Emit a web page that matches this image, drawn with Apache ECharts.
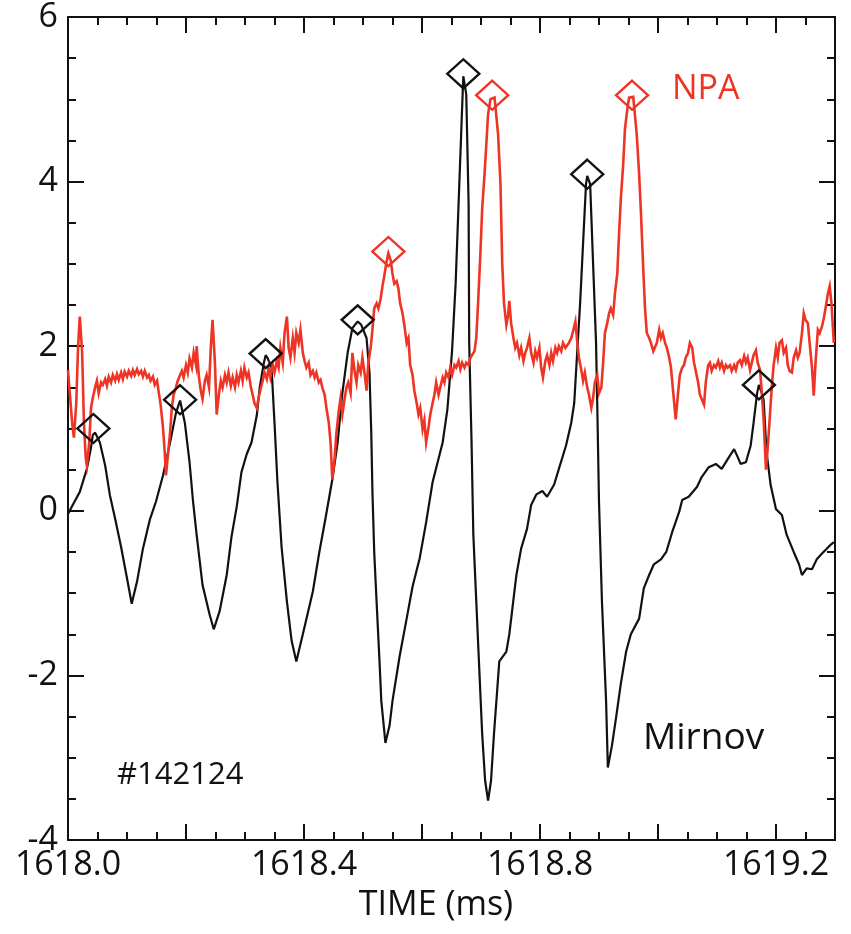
<!DOCTYPE html>
<html><head><meta charset="utf-8">
<script src="https://cdn.jsdelivr.net/npm/echarts@6/dist/echarts.min.js"></script>
<style>html,body{margin:0;padding:0;background:#fff}#c{width:851px;height:934px}</style>
</head><body><div id="c"></div>
<script>
// Mirnov signal [time (ms), value]
const mirnov = [
[1618.000,-0.04],[1618.008,0.07],[1618.020,0.23],[1618.032,0.51],[1618.039,0.77],[1618.042,0.92],[1618.046,0.95],
[1618.054,0.83],[1618.063,0.55],[1618.071,0.19],[1618.080,-0.10],[1618.090,-0.44],[1618.100,-0.82],[1618.108,-1.13],
[1618.117,-0.86],[1618.127,-0.46],[1618.139,-0.10],[1618.149,0.11],[1618.161,0.43],[1618.173,0.83],[1618.183,1.19],[1618.190,1.34],
[1618.198,1.07],[1618.206,0.59],[1618.212,0.11],[1618.218,-0.29],[1618.228,-0.90],[1618.240,-1.26],[1618.247,-1.44],
[1618.257,-1.22],[1618.269,-0.78],[1618.277,-0.32],[1618.286,0.05],[1618.294,0.47],[1618.303,0.69],[1618.311,0.83],[1618.320,1.16],[1618.325,1.50],[1618.332,1.80],[1618.335,1.89],
[1618.338,1.86],[1618.345,1.74],[1618.350,1.07],[1618.355,0.35],[1618.362,-0.44],[1618.371,-1.10],[1618.379,-1.58],[1618.387,-1.83],
[1618.398,-1.50],[1618.415,-0.98],[1618.426,-0.50],[1618.437,-0.07],[1618.448,0.38],[1618.457,0.83],[1618.465,1.43],[1618.474,1.92],[1618.482,2.22],[1618.491,2.30],
[1618.497,2.26],[1618.506,2.10],[1618.511,1.68],[1618.514,0.95],[1618.516,0.23],[1618.519,-0.50],[1618.523,-1.10],[1618.528,-1.83],[1618.531,-2.31],[1618.538,-2.82],
[1618.545,-2.61],[1618.550,-2.31],[1618.562,-1.77],[1618.574,-1.31],[1618.584,-0.92],[1618.596,-0.58],[1618.607,-0.14],[1618.618,0.35],[1618.635,0.83],[1618.643,1.23],
[1618.651,1.95],[1618.657,2.76],[1618.662,3.73],[1618.667,4.70],[1618.670,5.28],
[1618.675,5.06],[1618.679,3.73],[1618.680,2.04],[1618.684,0.83],[1618.687,-0.29],[1618.692,-1.10],[1618.697,-1.91],[1618.702,-2.71],[1618.707,-3.28],[1618.712,-3.52],
[1618.717,-3.28],[1618.722,-2.71],[1618.731,-1.83],[1618.743,-1.71],[1618.748,-1.50],[1618.760,-0.78],[1618.768,-0.46],[1618.778,-0.22],[1618.785,0.07],[1618.794,0.20],
[1618.804,0.24],[1618.812,0.17],[1618.824,0.32],[1618.832,0.51],[1618.844,0.79],[1618.853,1.07],[1618.858,1.31],[1618.863,1.92],[1618.868,2.52],[1618.873,3.25],[1618.878,3.97],[1618.880,4.07],
[1618.885,3.97],[1618.890,3.00],[1618.895,2.04],[1618.897,1.31],[1618.900,0.11],[1618.905,-1.10],[1618.912,-2.31],[1618.915,-3.12],
[1618.922,-2.85],[1618.929,-2.51],[1618.937,-2.10],[1618.946,-1.71],[1618.954,-1.50],[1618.968,-1.31],[1618.976,-0.94],[1618.985,-0.78],[1618.993,-0.65],
[1619.005,-0.59],[1619.014,-0.50],[1619.024,-0.26],[1619.036,-0.01],[1619.041,0.13],[1619.052,0.17],[1619.066,0.29],[1619.074,0.41],[1619.086,0.53],[1619.098,0.57],
[1619.108,0.51],[1619.120,0.65],[1619.129,0.75],[1619.134,0.67],[1619.140,0.57],[1619.149,0.59],[1619.157,0.79],[1619.162,1.07],[1619.168,1.43],[1619.171,1.53],
[1619.176,1.43],[1619.179,1.35],[1619.184,0.71],[1619.191,0.31],[1619.200,0.02],[1619.210,-0.05],[1619.218,-0.29],[1619.230,-0.50],[1619.239,-0.65],[1619.244,-0.78],
[1619.252,-0.70],[1619.261,-0.71],[1619.269,-0.59],[1619.278,-0.52],[1619.286,-0.46],[1619.293,-0.41],[1619.298,-0.38]
];
// NPA signal [time (ms), value]
const npa = [
[1618.000,1.71],[1618.003,1.43],[1618.007,1.07],[1618.010,0.89],[1618.014,1.31],[1618.017,1.98],[1618.020,2.36],[1618.024,1.92],[1618.027,1.07],[1618.030,0.65],
[1618.032,0.55],[1618.036,0.83],[1618.039,1.25],[1618.042,1.37],[1618.046,1.50],[1618.049,1.58],[1618.052,1.43],[1618.056,1.56],[1618.059,1.53],[1618.063,1.60],
[1618.066,1.52],[1618.069,1.63],[1618.073,1.56],[1618.076,1.65],[1618.080,1.58],[1618.083,1.66],[1618.086,1.59],[1618.090,1.68],[1618.093,1.60],[1618.096,1.69],
[1618.100,1.63],[1618.103,1.70],[1618.107,1.64],[1618.110,1.71],[1618.113,1.65],[1618.117,1.72],[1618.120,1.66],[1618.124,1.70],[1618.127,1.63],[1618.130,1.70],
[1618.134,1.62],[1618.137,1.65],[1618.140,1.58],[1618.144,1.63],[1618.147,1.53],[1618.151,1.58],[1618.154,1.43],[1618.157,1.29],[1618.161,1.01],[1618.164,0.71],
[1618.166,0.43],[1618.169,0.65],[1618.173,0.95],[1618.176,1.25],[1618.179,1.41],[1618.183,1.50],[1618.186,1.58],[1618.190,1.65],[1618.193,1.70],[1618.196,1.62],
[1618.200,1.77],[1618.203,1.68],[1618.206,1.85],[1618.210,1.74],[1618.213,1.92],[1618.217,1.77],[1618.218,2.00],[1618.222,1.62],[1618.225,1.46],[1618.228,1.36],
[1618.232,1.58],[1618.235,1.65],[1618.239,1.50],[1618.242,1.98],[1618.245,2.32],[1618.249,1.80],[1618.252,1.17],[1618.256,1.43],[1618.259,1.58],[1618.262,1.50],
[1618.266,1.65],[1618.269,1.56],[1618.272,1.68],[1618.276,1.52],[1618.279,1.62],[1618.283,1.50],[1618.286,1.65],[1618.289,1.56],[1618.293,1.70],[1618.296,1.58],
[1618.299,1.74],[1618.303,1.62],[1618.306,1.68],[1618.310,1.50],[1618.313,1.41],[1618.316,1.31],[1618.320,1.25],[1618.323,1.37],[1618.327,1.50],[1618.330,1.58],
[1618.333,1.68],[1618.337,1.60],[1618.340,1.74],[1618.343,1.62],[1618.347,1.77],[1618.350,1.68],[1618.354,1.82],[1618.357,1.74],[1618.360,1.98],[1618.364,1.80],
[1618.367,2.16],[1618.371,2.36],[1618.374,1.98],[1618.377,1.86],[1618.381,2.10],[1618.384,1.92],[1618.387,2.16],[1618.391,2.04],[1618.394,2.20],[1618.398,1.92],
[1618.401,1.82],[1618.404,1.74],[1618.408,1.80],[1618.411,1.65],[1618.415,1.70],[1618.418,1.62],[1618.421,1.68],[1618.425,1.56],[1618.428,1.59],[1618.431,1.50],
[1618.435,1.41],[1618.438,1.25],[1618.442,1.07],[1618.445,0.83],[1618.448,0.38],[1618.452,0.65],[1618.455,0.95],[1618.459,1.22],[1618.462,1.37],[1618.465,1.17],
[1618.469,1.37],[1618.472,1.50],[1618.475,1.56],[1618.479,1.43],[1618.482,1.92],[1618.486,1.68],[1618.489,1.56],[1618.492,1.77],[1618.496,1.68],[1618.499,1.86],
[1618.503,1.65],[1618.506,1.46],[1618.509,1.80],[1618.513,1.98],[1618.516,2.20],[1618.519,2.46],[1618.523,2.52],[1618.526,2.46],[1618.530,2.58],[1618.533,2.73],
[1618.536,2.85],[1618.540,3.03],[1618.543,3.13],[1618.547,3.04],[1618.550,2.88],[1618.553,2.76],[1618.557,2.79],[1618.560,2.70],[1618.563,2.52],[1618.567,2.40],
[1618.570,2.26],[1618.574,2.04],[1618.577,2.10],[1618.580,1.77],[1618.584,1.65],[1618.587,1.46],[1618.591,1.31],[1618.594,1.17],[1618.597,1.25],[1618.601,0.99],
[1618.604,1.10],[1618.607,0.83],[1618.611,1.01],[1618.614,1.17],[1618.618,1.31],[1618.621,1.41],[1618.624,1.56],[1618.628,1.41],[1618.631,1.50],[1618.635,1.62],
[1618.638,1.56],[1618.641,1.68],[1618.645,1.62],[1618.648,1.74],[1618.651,1.65],[1618.655,1.77],[1618.658,1.74],[1618.662,1.82],[1618.665,1.72],[1618.668,1.80],
[1618.672,1.74],[1618.675,1.80],[1618.679,1.77],[1618.682,1.86],[1618.685,1.86],[1618.689,1.94],[1618.692,2.10],[1618.695,2.52],[1618.699,3.13],[1618.702,3.67],
[1618.706,4.09],[1618.709,4.45],[1618.712,4.82],[1618.716,5.00],[1618.719,5.02],[1618.723,5.02],[1618.726,5.00],[1618.729,4.57],[1618.733,3.97],[1618.736,3.00],
[1618.739,2.52],[1618.743,2.26],[1618.746,2.38],[1618.748,2.55],[1618.751,2.28],[1618.755,2.10],[1618.758,1.98],[1618.761,2.04],[1618.765,1.89],[1618.768,1.98],
[1618.772,1.82],[1618.775,1.92],[1618.778,1.98],[1618.782,2.10],[1618.785,1.92],[1618.789,1.80],[1618.792,1.94],[1618.795,1.86],[1618.799,1.98],[1618.802,1.74],
[1618.805,1.62],[1618.809,1.82],[1618.812,1.89],[1618.816,1.77],[1618.819,1.92],[1618.822,1.82],[1618.826,1.98],[1618.829,1.92],[1618.832,2.00],[1618.836,1.94],
[1618.839,2.04],[1618.843,1.98],[1618.846,2.01],[1618.849,2.04],[1618.853,2.10],[1618.856,2.18],[1618.860,2.30],[1618.863,2.06],[1618.866,1.86],[1618.870,1.71],
[1618.873,1.58],[1618.876,1.68],[1618.880,1.50],[1618.883,1.41],[1618.887,1.25],[1618.890,1.37],[1618.893,1.56],[1618.897,1.65],[1618.900,1.43],[1618.904,1.50],
[1618.907,1.80],[1618.910,2.16],[1618.914,2.28],[1618.917,2.40],[1618.920,2.46],[1618.924,2.38],[1618.927,2.64],[1618.931,2.88],[1618.934,3.37],[1618.937,3.79],
[1618.941,4.21],[1618.944,4.64],[1618.948,4.88],[1618.951,5.02],[1618.954,5.03],[1618.958,5.03],[1618.961,5.02],[1618.964,4.57],[1618.968,4.09],[1618.971,3.64],
[1618.975,2.94],[1618.978,2.46],[1618.981,2.16],[1618.985,2.10],[1618.988,2.04],[1618.992,1.94],[1618.995,1.92],[1618.998,2.04],[1619.002,2.20],[1619.005,2.10],
[1619.008,2.16],[1619.012,2.04],[1619.015,1.98],[1619.019,1.86],[1619.022,1.74],[1619.025,1.50],[1619.029,1.19],[1619.030,1.11],[1619.034,1.43],[1619.037,1.65],
[1619.041,1.74],[1619.044,1.77],[1619.047,1.86],[1619.051,1.92],[1619.054,2.04],[1619.058,1.98],[1619.061,1.80],[1619.064,1.70],[1619.068,1.56],[1619.071,1.41],
[1619.074,1.43],[1619.078,1.29],[1619.081,1.56],[1619.085,1.77],[1619.088,1.80],[1619.091,1.70],[1619.095,1.77],[1619.098,1.74],[1619.102,1.82],[1619.105,1.74],
[1619.108,1.80],[1619.112,1.70],[1619.115,1.77],[1619.118,1.74],[1619.122,1.77],[1619.125,1.70],[1619.129,1.77],[1619.132,1.71],[1619.135,1.80],[1619.139,1.83],
[1619.142,1.77],[1619.146,1.88],[1619.149,1.80],[1619.152,1.86],[1619.156,1.71],[1619.159,1.80],[1619.162,1.89],[1619.166,1.95],[1619.169,1.80],[1619.173,1.71],
[1619.176,1.43],[1619.179,1.11],[1619.183,0.50],[1619.186,0.77],[1619.190,1.19],[1619.193,1.52],[1619.196,1.77],[1619.200,1.98],[1619.203,1.86],[1619.206,2.04],
[1619.210,2.07],[1619.213,1.92],[1619.217,1.98],[1619.220,1.77],[1619.223,1.70],[1619.227,1.68],[1619.230,1.86],[1619.234,1.95],[1619.237,1.86],[1619.240,1.92],
[1619.244,2.16],[1619.247,2.40],[1619.250,2.32],[1619.254,2.28],[1619.257,2.04],[1619.261,1.74],[1619.264,1.40],[1619.267,1.80],[1619.271,2.20],[1619.274,2.16],
[1619.278,2.24],[1619.281,2.34],[1619.284,2.46],[1619.288,2.64],[1619.291,2.73],[1619.294,2.52],[1619.298,2.04]
];
// Peak markers [time (ms), value]
const mirnovPeaks = [[1618.043,1.00],[1618.190,1.35],[1618.335,1.91],[1618.491,2.32],[1618.670,5.31],[1618.880,4.09],[1619.171,1.53]];
const npaPeaks = [[1618.543,3.15],[1618.719,5.05],[1618.956,5.05]];
const xTickLabels = ['1618.0','1618.4','1618.8','1619.2'];
const yTickLabels = ['-4','-2','0','2','4','6'];
const annotations = {npa:'NPA', mirnov:'Mirnov', shot:'#142124', xName:'TIME (ms)'};

const FONT = '"Open Sans", "Noto Sans", sans-serif';
const INK = '#111';
const RED = '#ee3424';
const chart = echarts.init(document.getElementById('c'), null, {renderer:'canvas'});

function axisCommon(pos, showLabel, isX) {
  return {
    type:'value', position:pos,
    min: isX ? 1618.0 : -4, max: isX ? 1619.3 : 6, interval: isX ? 0.2 : 2,
    axisLine:{show:true, onZero:false, lineStyle:{color:INK, width:2}},
    axisTick:{show:true, inside:true, length:16, lineStyle:{color:INK, width:2}},
    minorTick:{show:true, splitNumber:4, length:8, lineStyle:{color:INK, width:2}},
    splitLine:{show:false}, minorSplitLine:{show:false},
    axisLabel:{
      show:showLabel, color:INK, fontFamily:FONT, fontSize:34, margin: isX ? 8 : 10,
      formatter: isX ? (v => { const s = v.toFixed(1); return xTickLabels.includes(s) ? s : ''; })
                     : (v => { const s = String(Math.round(v)); return yTickLabels.includes(s) ? s : ''; })
    }
  };
}

const option = {
  backgroundColor:'#fff',
  animation:false,
  grid:{left:68, right:16, top:12, bottom:94, containLabel:false},
  xAxis:[
    Object.assign(axisCommon('bottom', true, true), {
      name: annotations.xName, nameLocation:'middle', nameGap:48,
      nameTextStyle:{color:INK, fontFamily:FONT, fontSize:34, padding:[0,31,0,0]}
    }),
    axisCommon('top', false, true)
  ],
  yAxis:[ axisCommon('left', true, false), axisCommon('right', false, false) ],
  series:[
    {type:'line', name:'Mirnov', data:mirnov, xAxisIndex:0, yAxisIndex:0, showSymbol:false, symbol:'none',
     lineStyle:{color:INK, width:2.2}, z:2},
    {type:'line', name:'NPA', data:npa, xAxisIndex:0, yAxisIndex:0, showSymbol:false, symbol:'none',
     lineStyle:{color:RED, width:2.6, join:'miter'}, z:3},
    {type:'scatter', name:'Mirnov peaks', data:mirnovPeaks, symbol:'diamond', symbolSize:[32,29],
     itemStyle:{color:'rgba(0,0,0,0)', borderColor:INK, borderWidth:2.4, opacity:1}, z:4},
    {type:'scatter', name:'NPA peaks', data:npaPeaks, symbol:'diamond', symbolSize:[32,29],
     itemStyle:{color:'rgba(0,0,0,0)', borderColor:RED, borderWidth:2.4, opacity:1}, z:4}
  ],
  graphic:[
    {type:'text', x:672, y:89, style:{text:annotations.npa, fill:RED, font:'34px ' + FONT, verticalAlign:'middle', align:'left'}},
    {type:'text', x:643, y:738, style:{text:annotations.mirnov, fill:INK, font:'37px ' + FONT, verticalAlign:'middle', align:'left'}},
    {type:'text', x:117, y:775, style:{text:annotations.shot, fill:INK, font:'31px ' + FONT, verticalAlign:'middle', align:'left'}}
  ]
};
chart.setOption(option);
</script>
</body></html>
